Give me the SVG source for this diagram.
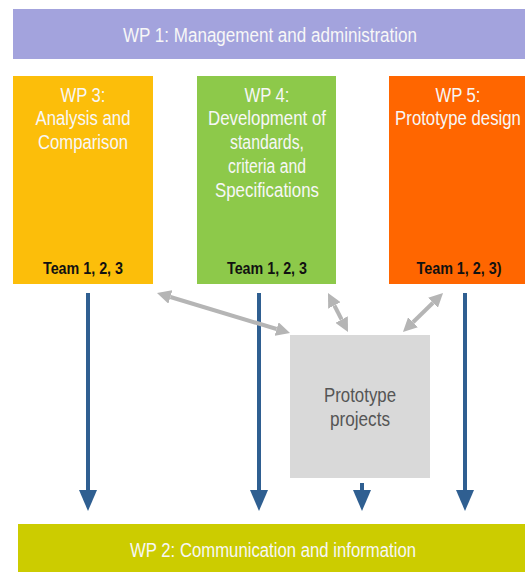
<svg xmlns="http://www.w3.org/2000/svg" width="525" height="572" viewBox="0 0 525 572">
  <style>
    .lbl { font-family: "Liberation Sans", Arial, sans-serif; font-size: 19.5px; fill: #f7f7f7; text-anchor: middle; }
    .team { font-family: "Liberation Sans", Arial, sans-serif; font-size: 16.5px; font-weight: bold; fill: #111; text-anchor: middle; }
    .proto { font-family: "Liberation Sans", Arial, sans-serif; font-size: 19.5px; fill: #555; text-anchor: middle; }
    .flow { stroke: #2f5f91; stroke-width: 4; fill: none; }
    .link { stroke: #b5b5b5; stroke-width: 4; fill: none; }
  </style>
  <defs>
    <marker id="blueHead" markerUnits="userSpaceOnUse" orient="auto" markerWidth="21" markerHeight="18" refX="0" refY="9" viewBox="0 0 21 18">
      <path d="M0,0 L21,9 L0,18 z" fill="#2f5f91"/>
    </marker>
    <marker id="greyHead" markerUnits="userSpaceOnUse" orient="auto-start-reverse" markerWidth="14" markerHeight="14" refX="0" refY="7" viewBox="0 0 14 14">
      <path d="M0,0 L14,7 L0,14 z" fill="#b5b5b5"/>
    </marker>
  </defs>

  <rect width="525" height="572" fill="#ffffff"/>

  <g id="wp1">
    <rect x="13" y="9" width="512" height="50" fill="#a3a3dd"/>
    <text class="lbl" x="270" y="42" textLength="294" lengthAdjust="spacingAndGlyphs">WP 1: Management and  administration</text>
  </g>

  <g id="wp3">
    <rect x="13" y="76" width="140" height="208" fill="#fcbe0a"/>
    <text class="lbl" x="83" y="102" textLength="45" lengthAdjust="spacingAndGlyphs">WP 3:</text>
    <text class="lbl" x="83" y="125" textLength="95" lengthAdjust="spacingAndGlyphs">Analysis and</text>
    <text class="lbl" x="83" y="149" textLength="90" lengthAdjust="spacingAndGlyphs">Comparison</text>
    <text class="team" x="83" y="274" textLength="80" lengthAdjust="spacingAndGlyphs">Team 1, 2, 3</text>
  </g>

  <g id="wp4">
    <rect x="197" y="76" width="139" height="208" fill="#8dc94a"/>
    <text class="lbl" x="267" y="102" textLength="45" lengthAdjust="spacingAndGlyphs">WP 4:</text>
    <text class="lbl" x="267" y="125" textLength="118" lengthAdjust="spacingAndGlyphs">Development of</text>
    <text class="lbl" x="267" y="149" textLength="74" lengthAdjust="spacingAndGlyphs">standards,</text>
    <text class="lbl" x="267" y="173" textLength="78" lengthAdjust="spacingAndGlyphs">criteria and</text>
    <text class="lbl" x="267" y="197" textLength="104" lengthAdjust="spacingAndGlyphs">Specifications</text>
    <text class="team" x="267" y="274" textLength="80" lengthAdjust="spacingAndGlyphs">Team 1, 2, 3</text>
  </g>

  <g id="wp5">
    <rect x="389" y="76" width="136" height="208" fill="#ff6600"/>
    <text class="lbl" x="458" y="102" textLength="45" lengthAdjust="spacingAndGlyphs">WP 5:</text>
    <!-- condensed horizontally so the line stays inside the box -->
    <text class="lbl" transform="translate(458,125) scale(0.86,1)" x="0" y="0">Prototype design</text>
    <text class="team" x="459" y="274" textLength="85" lengthAdjust="spacingAndGlyphs">Team 1, 2, 3)</text>
  </g>

  <g id="prototypes">
    <rect x="290" y="335" width="140" height="143" fill="#d9d9d9"/>
    <text class="proto" x="360" y="402" textLength="72" lengthAdjust="spacingAndGlyphs">Prototype</text>
    <text class="proto" x="360" y="426" textLength="60" lengthAdjust="spacingAndGlyphs">projects</text>
  </g>

  <g id="wp2">
    <rect x="18" y="524" width="507" height="48" fill="#cccc00"/>
    <text class="lbl" x="273" y="557" textLength="286" lengthAdjust="spacingAndGlyphs">WP 2: Communication and information</text>
  </g>

  <g id="connectors">
    <line class="flow" x1="88" y1="293" x2="88" y2="490" marker-end="url(#blueHead)"/>
    <line class="flow" x1="259" y1="293" x2="259" y2="490" marker-end="url(#blueHead)"/>
    <line class="flow" x1="362" y1="483" x2="362" y2="490" marker-end="url(#blueHead)"/>
    <line class="flow" x1="465" y1="293" x2="465" y2="490" marker-end="url(#blueHead)"/>

    <line class="link" x1="170.4" y1="297" x2="276.6" y2="329" marker-start="url(#greyHead)" marker-end="url(#greyHead)"/>
    <line class="link" x1="334.4" y1="305.5" x2="341.6" y2="319.5" marker-start="url(#greyHead)" marker-end="url(#greyHead)"/>
    <line class="link" x1="433" y1="302.8" x2="413" y2="322.2" marker-start="url(#greyHead)" marker-end="url(#greyHead)"/>
  </g>
</svg>
